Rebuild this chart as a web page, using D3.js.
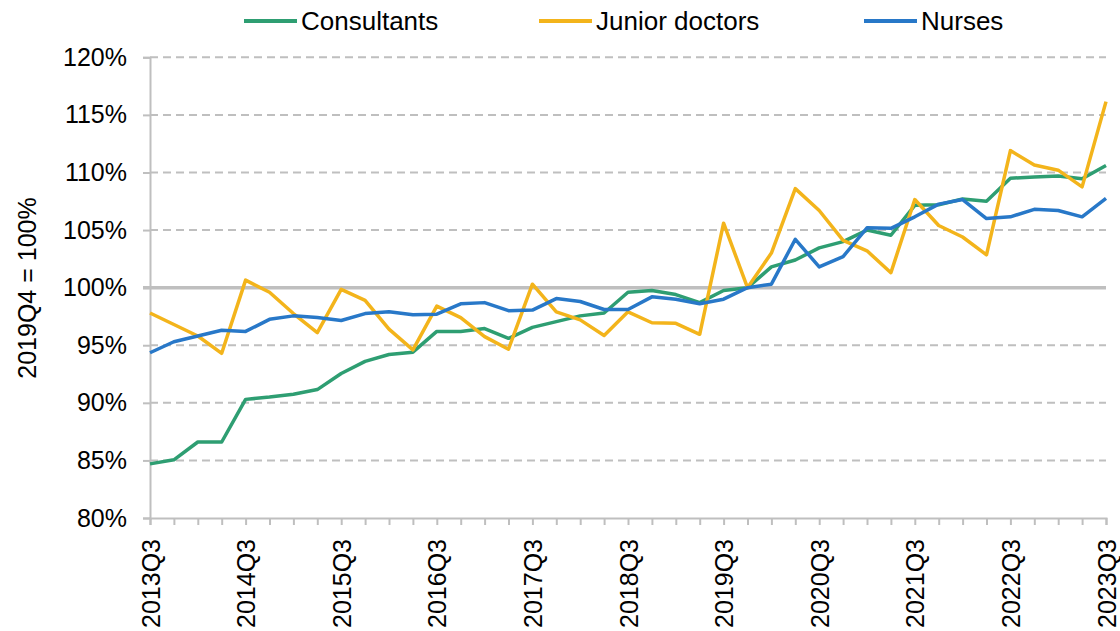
<!DOCTYPE html>
<html>
<head>
<meta charset="utf-8">
<script src="https://cdn.jsdelivr.net/npm/d3@7"></script>
<style>
  body { margin: 0; background: #fff; }
  text { font-family: "Liberation Sans", Arial, sans-serif; fill: #000; }
</style>
</head>
<body>
<svg id="chart" width="1120" height="631"></svg>
<script>
// quarters on the x axis
const quarters = ["2013Q3","2013Q4","2014Q1","2014Q2","2014Q3","2014Q4","2015Q1","2015Q2",
  "2015Q3","2015Q4","2016Q1","2016Q2","2016Q3","2016Q4","2017Q1","2017Q2",
  "2017Q3","2017Q4","2018Q1","2018Q2","2018Q3","2018Q4","2019Q1","2019Q2",
  "2019Q3","2019Q4","2020Q1","2020Q2","2020Q3","2020Q4","2021Q1","2021Q2",
  "2021Q3","2021Q4","2022Q1","2022Q2","2022Q3","2022Q4","2023Q1","2023Q2","2023Q3"];

// index values, 2019Q4 = 100
const consultants = [84.7, 85.05, 86.6, 86.6, 90.3, 90.5, 90.75, 91.15, 92.55, 93.6,
  94.2, 94.4, 96.2, 96.2, 96.45, 95.6, 96.55, 97.05, 97.55, 97.8,
  99.6, 99.75, 99.4, 98.7, 99.75, 100.0, 101.8, 102.4, 103.45, 104.0,
  105.0, 104.55, 107.15, 107.2, 107.7, 107.5, 109.5, 109.6, 109.7, 109.45, 110.6];
const juniorDoctors = [97.8, 96.8, 95.8, 94.3, 100.65, 99.6, 97.75, 96.1, 99.85, 98.9,
  96.4, 94.6, 98.4, 97.4, 95.75, 94.65, 100.3, 97.9, 97.2, 95.85,
  97.9, 96.95, 96.9, 95.95, 105.6, 100.0, 103.0, 108.6, 106.7, 104.1,
  103.2, 101.3, 107.65, 105.4, 104.4, 102.85, 111.9, 110.65, 110.2, 108.75, 116.15];
const nurses = [94.35, 95.3, 95.8, 96.3, 96.2, 97.25, 97.55, 97.4, 97.15, 97.75,
  97.9, 97.65, 97.7, 98.6, 98.7, 98.0, 98.05, 99.05, 98.8, 98.1,
  98.1, 99.2, 99.0, 98.6, 99.0, 100.0, 100.3, 104.2, 101.8, 102.7,
  105.2, 105.15, 106.15, 107.25, 107.65, 106.0, 106.15, 106.8, 106.7, 106.15, 107.75];

const seriesNames = ["Consultants", "Junior doctors", "Nurses"];
const seriesColors = ["#2e9e72", "#f3b41b", "#2878c8"];
const yTicks = [80, 85, 90, 95, 100, 105, 110, 115, 120];
const xLabels = ["2013Q3","2014Q3","2015Q3","2016Q3","2017Q3","2018Q3","2019Q3","2020Q3","2021Q3","2022Q3","2023Q3"];

const series = [consultants, juniorDoctors, nurses];
const svg = d3.select("#chart");
const plotLeft = 150, plotRight = 1106, plotTop = 57.3, plotBottom = 518;
const grey = "#bfbfbf";

const x = d3.scalePoint().domain(quarters).range([plotLeft, plotRight]);
const y = d3.scaleLinear().domain([80, 120]).range([plotBottom, plotTop]);

// gridlines (dashed), 100% line solid
svg.append("g").selectAll("line")
  .data(yTicks.filter(d => d !== 80 && d !== 100))
  .enter().append("line")
    .attr("x1", plotLeft).attr("x2", plotRight)
    .attr("y1", d => y(d)).attr("y2", d => y(d))
    .attr("stroke", grey).attr("stroke-width", 2)
    .attr("stroke-dasharray", "8,5");

// y axis
const yAxis = svg.append("g")
  .attr("transform", `translate(${plotLeft},0)`)
  .call(d3.axisLeft(y).tickValues(yTicks).tickSize(7).tickPadding(16).tickFormat(d => d + "%"));
yAxis.select(".domain").attr("stroke", grey).attr("stroke-width", 2);
yAxis.selectAll(".tick line").attr("stroke", grey).attr("stroke-width", 2);
yAxis.selectAll("text").style("font-size", "25px");

svg.append("line")
  .attr("x1", plotLeft - 7).attr("x2", plotRight)
  .attr("y1", y(100)).attr("y2", y(100))
  .attr("stroke", grey).attr("stroke-width", 3.5);

// x axis
const xAxis = svg.append("g")
  .attr("transform", `translate(0,${plotBottom})`)
  .call(d3.axisBottom(x).tickSize(7).tickFormat(d => xLabels.includes(d) ? d : ""));
xAxis.select(".domain").attr("stroke", grey).attr("stroke-width", 2);
xAxis.selectAll(".tick line").attr("stroke", grey).attr("stroke-width", 2);
xAxis.selectAll("text")
  .style("font-size", "25px")
  .attr("text-anchor", "end")
  .attr("transform", "rotate(-90)")
  .attr("x", -21).attr("y", 0).attr("dy", "0.36em");

// y axis title
svg.append("text")
  .attr("transform", "translate(36,288) rotate(-90)")
  .attr("text-anchor", "middle")
  .style("font-size", "25px")
  .text("2019Q4 = 100%");

// lines
const line = d3.line()
  .x((d, i) => x(quarters[i]))
  .y(d => y(d));

svg.append("g").selectAll("path")
  .data(series)
  .enter().append("path")
    .attr("d", line)
    .attr("fill", "none")
    .attr("stroke", (d, i) => seriesColors[i])
    .attr("stroke-width", 3.5)
    .attr("stroke-linejoin", "round");

// legend
const legendX = [244, 539, 864];
const legend = svg.append("g").selectAll("g")
  .data(seriesNames)
  .enter().append("g")
    .attr("transform", (d, i) => `translate(${legendX[i]},21)`);
legend.append("line")
  .attr("x1", 0).attr("x2", 53)
  .attr("stroke", (d, i) => seriesColors[i])
  .attr("stroke-width", 4);
legend.append("text")
  .attr("x", 57).attr("dy", "0.36em")
  .style("font-size", "26px")
  .text(d => d);
</script>
</body>
</html>
